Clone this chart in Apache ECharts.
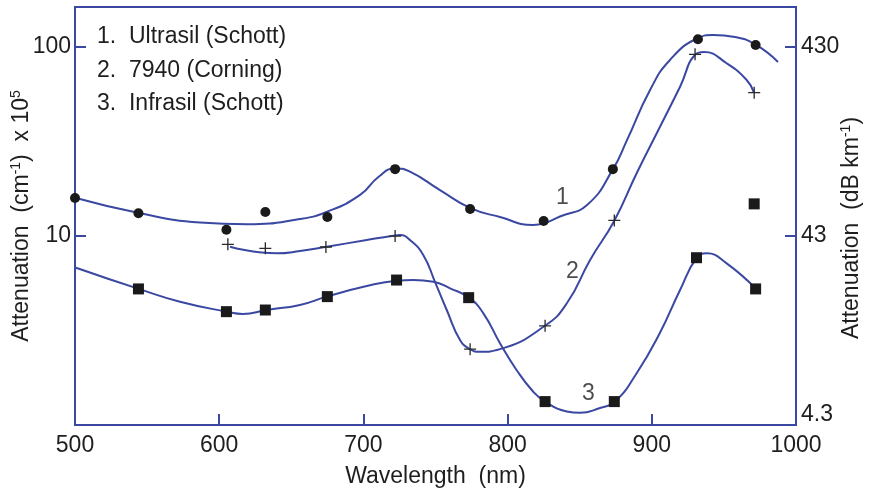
<!DOCTYPE html>
<html><head><meta charset="utf-8">
<script src="https://cdn.jsdelivr.net/npm/echarts@6/dist/echarts.min.js"></script>
<style>html,body{margin:0;padding:0;background:#fff}#c{width:873px;height:493px}</style>
</head><body><div id="c"></div>
<script>
// ---- measured points (wavelength nm, attenuation cm^-1 x 1e5) ----
const ultrasilX = [500, 544, 605, 632, 675, 722, 774, 825, 873, 932, 972];
const ultrasilY = [15.9, 13.2, 10.8, 13.4, 12.6, 22.6, 13.9, 12.0, 22.6, 110, 102.6];
const corningX = [606, 632, 674, 722, 774, 826, 874, 930, 971];
const corningY = [9.04, 8.61, 8.75, 10.0, 2.52, 3.35, 12.1, 91.6, 57.4];
const infrasilX = [544, 605, 632, 675, 723, 773, 826, 874, 931, 972, 971];
const infrasilY = [5.25, 3.98, 4.06, 4.78, 5.85, 4.72, 1.33, 1.33, 7.68, 5.25, 14.8];
// ---- fitted curves ----
const curve1X = [500.7, 544.4, 586.7, 619.3, 656, 674.8, 697.7, 710.6, 721.9, 732.3, 753.1, 773.9, 794.7, 817.6, 825.9, 836.3, 855.1, 873.1, 882.8, 898.8, 912.6, 932.1, 942.5, 957.7, 972.3, 987.5];
const curve1Y = [15.9, 13.24, 11.79, 11.54, 12.31, 13.45, 16.5, 20.6, 22.8, 21.9, 17.5, 14.1, 12.6, 11.44, 11.72, 12.69, 14.6, 22.6, 32.2, 59.3, 85.5, 111.7, 115.9, 113.1, 102.6, 83.4];
const curve2X = [607.5, 639.9, 656, 674.6, 702.3, 720.7, 725.4, 732.3, 741.5, 749.7, 757.8, 767, 773.9, 780.9, 794.7, 825.9, 841.2, 857.2, 874, 889.5, 905.7, 919.6, 930.4, 936.2, 951.9, 965.8, 970.9];
const curve2Y = [8.78, 8.1, 8.33, 8.78, 9.53, 10.04, 10.13, 9.53, 7.94, 5.71, 4.06, 2.82, 2.52, 2.44, 2.52, 3.35, 4.42, 7.47, 12.06, 21.5, 37.9, 61.7, 91.6, 94.2, 82.1, 67.0, 57.4];
const curve3X = [500.7, 544.2, 572.8, 605.2, 616.5, 632.5, 656, 674.6, 702.3, 723.1, 734.6, 748.5, 760.1, 773.2, 783.2, 794.7, 806.3, 817.8, 826, 841, 850.2, 864.1, 874.5, 889.5, 905.5, 919.6, 931.2, 938.1, 951.9, 972.3];
const curve3Y = [6.8, 5.25, 4.49, 3.98, 3.87, 4.06, 4.32, 4.78, 5.44, 5.8, 5.85, 5.73, 5.29, 4.72, 3.9, 2.71, 1.95, 1.5, 1.33, 1.18, 1.16, 1.23, 1.33, 1.88, 3.06, 5.18, 7.68, 8.1, 7.17, 5.25];
// ---- curve number labels ----
const curveLabelText = ['1', '2', '3'];
const curveLabelX = [838, 845, 856];
const curveLabelY = [15.9, 6.45, 1.46];
// ---- axis ticks ----
const leftTickValues = [1, 10, 100];
const leftTickLabels = ['', '10', '100'];
const rightTickLabels = ['4.3', '43', '430'];
const legendLines = ['1.  Ultrasil (Schott)', '2.  7940 (Corning)', '3.  Infrasil (Schott)'];

const zip = (xs, ys) => xs.map((x, i) => [x, ys[i]]);
const FONT = "'Liberation Sans Narrow','Arial Narrow','Liberation Sans',Arial,sans-serif";
const BLUE = '#3a48a2';
const TXT = '#1e1e1e';
const FS = 23;

const chart = echarts.init(document.getElementById('c'), null, {renderer: 'canvas'});
const lineSeries = (xs, ys) => ({
  type: 'line', data: zip(xs, ys), smooth: 0.5, showSymbol: false, silent: true,
  lineStyle: {color: BLUE, width: 2}, z: 2
});
const PLUS = 'path://M0,4.45H10V5.55H0Z M4.45,0H5.55V10H4.45Z';
const tickIndex = v => leftTickValues.findIndex(t => Math.abs(t - v) < 1e-6 * t);

chart.setOption({
  animation: false,
  backgroundColor: '#fff',
  grid: {left: 75, right: 77, top: 7, bottom: 68, show: true, borderColor: BLUE, borderWidth: 2,
    containLabel: false, outerBoundsMode: 'none'},
  xAxis: {
    type: 'value', min: 500, max: 1000, interval: 100,
    name: 'Wavelength  (nm)', nameLocation: 'middle', nameGap: 40, nameMoveOverlap: false,
    nameTextStyle: {fontFamily: FONT, fontSize: FS, color: TXT},
    axisLine: {show: true, lineStyle: {color: BLUE, width: 2}},
    axisTick: {show: true, inside: true, length: 11, lineStyle: {color: BLUE, width: 2}},
    axisLabel: {fontFamily: FONT, fontSize: FS, color: TXT, margin: 9, formatter: v => String(v)},
    splitLine: {show: false}
  },
  yAxis: [{
    type: 'log', logBase: 10, min: 1, max: 163, position: 'left',
    name: 'Attenuation  (cm{s|-1})  x 10{s|5}', nameLocation: 'middle', nameRotate: 90, nameGap: 40,
    nameMoveOverlap: false,
    nameTextStyle: {fontFamily: FONT, fontSize: FS, color: TXT,
      rich: {s: {fontFamily: FONT, fontSize: 14, color: TXT, padding: [0, 0, 12, 0]}}},
    axisLine: {show: true, lineStyle: {color: BLUE, width: 2}},
    axisTick: {show: true, inside: true, length: 11, lineStyle: {color: BLUE, width: 2}},
    axisLabel: {fontFamily: FONT, fontSize: FS, color: TXT, margin: 4,
      formatter: v => { const i = tickIndex(v); return i >= 0 ? leftTickLabels[i] : ''; }},
    splitLine: {show: false}, minorTick: {show: false}
  }, {
    type: 'log', logBase: 10, min: 1, max: 163, position: 'right',
    name: 'Attenuation  (dB km{s|-1})', nameLocation: 'middle', nameRotate: 90, nameGap: 43,
    nameMoveOverlap: false,
    nameTextStyle: {fontFamily: FONT, fontSize: FS, color: TXT, padding: [0, 24, 0, 0],
      rich: {s: {fontFamily: FONT, fontSize: 14, color: TXT, padding: [0, 0, 12, 0]}}},
    axisLine: {show: true, lineStyle: {color: BLUE, width: 2}},
    axisTick: {show: true, inside: true, length: 11, lineStyle: {color: BLUE, width: 2}},
    axisLabel: {fontFamily: FONT, fontSize: FS, color: TXT, margin: 5,
      rich: {b: {fontFamily: FONT, fontSize: FS, color: TXT, padding: [0, 0, 20, 0]}},
      formatter: v => { const i = tickIndex(v); if (i < 0) return ''; return i === 0 ? '{b|' + rightTickLabels[i] + '}' : rightTickLabels[i]; }},
    splitLine: {show: false}
  }],
  graphic: [{
    type: 'text', left: 97, top: 20, silent: true,
    style: {text: legendLines.join('\n'), font: FS + 'px ' + FONT, fill: TXT, lineHeight: 33.5}
  }],
  series: [
    lineSeries(curve1X, curve1Y),
    lineSeries(curve2X, curve2Y),
    lineSeries(curve3X, curve3Y),
    {type: 'scatter', data: zip(ultrasilX, ultrasilY), symbol: 'circle', symbolSize: 10,
      itemStyle: {color: '#1a1a1a', opacity: 1}, z: 5, silent: true},
    {type: 'scatter', data: zip(corningX, corningY), symbol: PLUS, symbolSize: 12, symbolKeepAspect: true,
      itemStyle: {color: '#2a2a2a', opacity: 1}, z: 5, silent: true},
    {type: 'scatter', data: zip(infrasilX, infrasilY), symbol: 'rect', symbolSize: 11,
      itemStyle: {color: '#1a1a1a', opacity: 1}, z: 5, silent: true},
    {type: 'scatter', data: curveLabelX.map((x, i) => ({value: [x, curveLabelY[i]], name: curveLabelText[i]})),
      symbolSize: 0, silent: true, z: 6,
      label: {show: true, position: 'inside', formatter: p => p.name, fontFamily: FONT, fontSize: FS, color: TXT}}
  ]
});
</script></body></html>
